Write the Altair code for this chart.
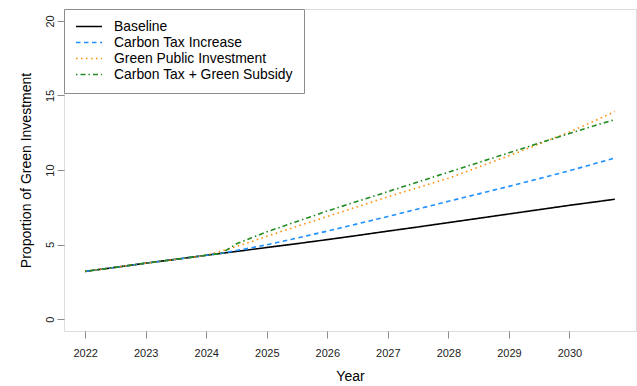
import altair as alt
import pandas as pd

years = [2022, 2022.5, 2023, 2023.5, 2024, 2024.25, 2024.5, 2024.75, 2025, 2025.5,
         2026, 2026.5, 2027, 2027.5, 2028, 2028.5, 2029, 2029.5, 2030, 2030.5, 2030.75]

baseline = [3.20, 3.47, 3.75, 4.01, 4.28, 4.41, 4.54, 4.67, 4.80, 5.06,
            5.33, 5.61, 5.90, 6.18, 6.47, 6.76, 7.05, 7.34, 7.63, 7.90, 8.04]
carbon_tax = [3.20, 3.47, 3.75, 4.01, 4.28, 4.41, 4.60, 4.79, 4.98, 5.44,
              5.90, 6.39, 6.88, 7.39, 7.90, 8.40, 8.90, 9.42, 9.95, 10.52, 10.80]
green_public = [3.20, 3.47, 3.75, 4.01, 4.28, 4.55, 4.88, 5.20, 5.55, 6.22,
                6.88, 7.54, 8.20, 8.82, 9.45, 10.20, 10.95, 11.75, 12.55, 13.45, 13.92]
tax_subsidy = [3.20, 3.47, 3.75, 4.01, 4.28, 4.41, 5.05, 5.45, 5.85, 6.55,
               7.25, 7.90, 8.55, 9.20, 9.85, 10.50, 11.15, 11.80, 12.45, 13.08, 13.38]

series_names = ["Baseline", "Carbon Tax Increase", "Green Public Investment",
                "Carbon Tax + Green Subsidy"]
series_values = [baseline, carbon_tax, green_public, tax_subsidy]
series_colors = ["#000000", "#1E90FF", "#FF8C00", "#228B22"]
series_dashes = [[1, 0], [4.5, 3.5], [1.5, 3.5], [1.5, 3, 5, 3]]

x_ticks = [2022, 2023, 2024, 2025, 2026, 2027, 2028, 2029, 2030]
y_ticks = [0, 5, 10, 15, 20]

rows = []
for name, vals in zip(series_names, series_values):
    for t, v in zip(years, vals):
        rows.append({"Year": t, "Value": v, "Scenario": name})
df = pd.DataFrame(rows)

FONT = "Liberation Sans"

chart = alt.Chart(df).mark_line(strokeWidth=1.6, clip=True).encode(
    x=alt.X("Year:Q",
            scale=alt.Scale(domain=[2021.65, 2031.1], nice=False, zero=False),
            axis=alt.Axis(values=x_ticks, format="d", title="Year", grid=False,
                          domain=False, tickColor="#8c8c8c", tickSize=7,
                          labelPadding=9, labelFontSize=11, labelColor="#222222",
                          labelFont=FONT, titleFont=FONT, titleFontSize=14,
                          titleFontWeight="normal", titleColor="#000000",
                          titleBaseline="alphabetic", titleY=49)),
    y=alt.Y("Value:Q",
            scale=alt.Scale(domain=[-0.8, 20.8], nice=False, zero=False),
            axis=alt.Axis(values=y_ticks, title="Proportion of Green Investment",
                          grid=False, domain=False, tickColor="#8c8c8c", tickSize=7,
                          labelAngle=270, labelAlign="center", labelBaseline="alphabetic",
                          labelPadding=4, labelFontSize=11, labelColor="#222222",
                          labelFont=FONT, titleFont=FONT, titleFontSize=14,
                          titleFontWeight="normal", titleColor="#000000",
                          titleAngle=270, titleBaseline="alphabetic", titleX=-34)),
    color=alt.Color("Scenario:N",
                    scale=alt.Scale(domain=series_names, range=series_colors),
                    legend=alt.Legend(title=None, orient="none", legendX=0, legendY=0,
                                      symbolType="stroke", symbolSize=676,
                                      symbolStrokeWidth=1.6, clipHeight=13,
                                      rowPadding=1, labelOffset=11, padding=11,
                                      labelFontSize=13.9, labelFont=FONT,
                                      labelColor="#000000", labelLimit=400,
                                      fillColor="#ffffff", strokeColor="#8c8c8c",
                                      cornerRadius=0)),
    strokeDash=alt.StrokeDash("Scenario:N",
                              scale=alt.Scale(domain=series_names, range=series_dashes),
                              legend=None),
    order=alt.Order("Year:Q"),
).properties(
    width=572, height=322,
    autosize=alt.AutoSizeParams(type="none"),
    padding={"left": 64, "top": 9, "right": 1, "bottom": 55},
).configure_view(
    stroke="#8c8c8c", strokeWidth=1
).configure(background="#ffffff")

chart.save("out.html", embed_options={"renderer": "svg", "actions": False})
